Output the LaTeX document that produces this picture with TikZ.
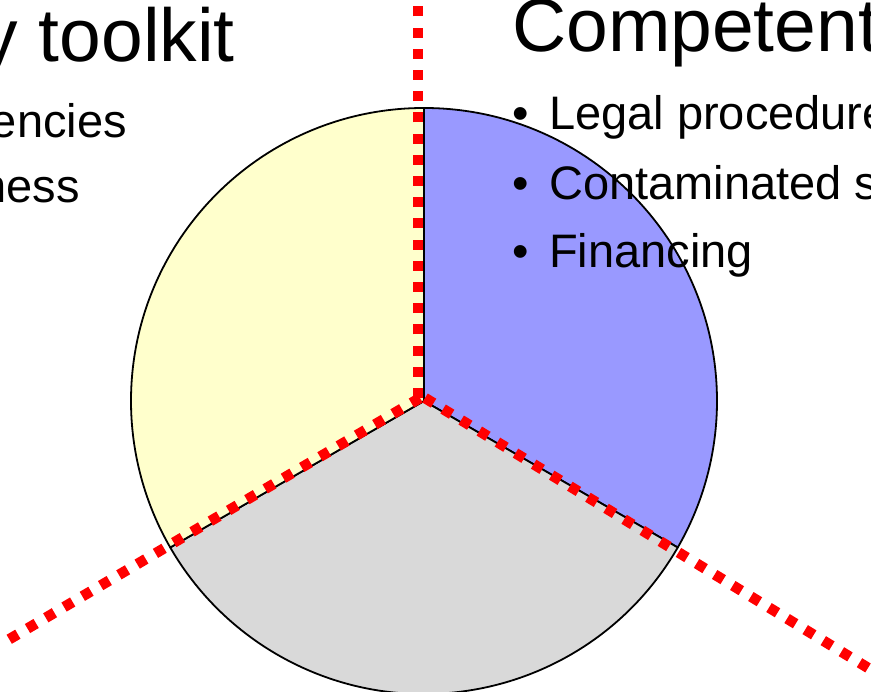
\documentclass[tikz,border=0pt]{standalone}
\usepackage{fontspec}
\setmainfont{Liberation Sans}
\definecolor{sliceblue}{HTML}{9999FF}
\definecolor{slicegray}{HTML}{D9D9D9}
\definecolor{sliceyellow}{HTML}{FFFFCC}
\begin{document}
\begin{tikzpicture}[x=1pt,y=1pt,
  slice/.style={draw=black, line width=1.8pt, line join=round},
  divider/.style={draw=red, line width=10.5pt, dash pattern=on 10pt off 11.2pt},
  heading/.style={font=\fontsize{75}{82}\selectfont, inner sep=0pt},
  item/.style={font=\fontsize{47}{52}\selectfont, inner sep=0pt}]
\useasboundingbox (0,0) rectangle (871,692);

% pie centre and radius
\coordinate (hub) at (424,291);
\def\rad{293}

% three equal slices
\path[slice, fill=sliceblue]   (hub) -- ++(90:\rad)  arc[start angle=90,  end angle=-30, radius=\rad] -- cycle;
\path[slice, fill=slicegray]   (hub) -- ++(-30:\rad) arc[start angle=-30, end angle=-150, radius=\rad] -- cycle;
\path[slice, fill=sliceyellow] (hub) -- ++(90:\rad)  arc[start angle=90,  end angle=210, radius=\rad] -- cycle;

% red dotted dividers
\coordinate (vStart) at (418,294);
\coordinate (topEnd) at (418,692);
\coordinate (rStart) at (425,294);
\coordinate (rightEnd) at (878,18);
\coordinate (lStart) at (420,294);
\coordinate (leftEnd) at (8,52);
\draw[divider] (vStart) -- (topEnd);
\draw[divider] (rStart) -- (rightEnd);
\draw[divider] (lStart) -- (leftEnd);

% left text block
\node[heading, anchor=base east] (lefthead) at (235,630) {y toolkit};
\node[item, anchor=base east] (leftA) at (127,554) {encies};
\node[item, anchor=base east] (leftB) at (80,489) {ness};

% right text block
\node[heading, anchor=base west] (righthead) at (512,640) {Competent};
\node[item, anchor=base west] (b1) at (512,562) {•};
\node[item, anchor=base west] (t1) at (549,562) {Legal procedure};
\node[item, anchor=base west] (b2) at (512,492) {•};
\node[item, anchor=base west] (t2) at (549,492) {Contaminated s};
\node[item, anchor=base west] (b3) at (512,424) {•};
\node[item, anchor=base west] (t3) at (549,424) {Financing};
\end{tikzpicture}
\end{document}
